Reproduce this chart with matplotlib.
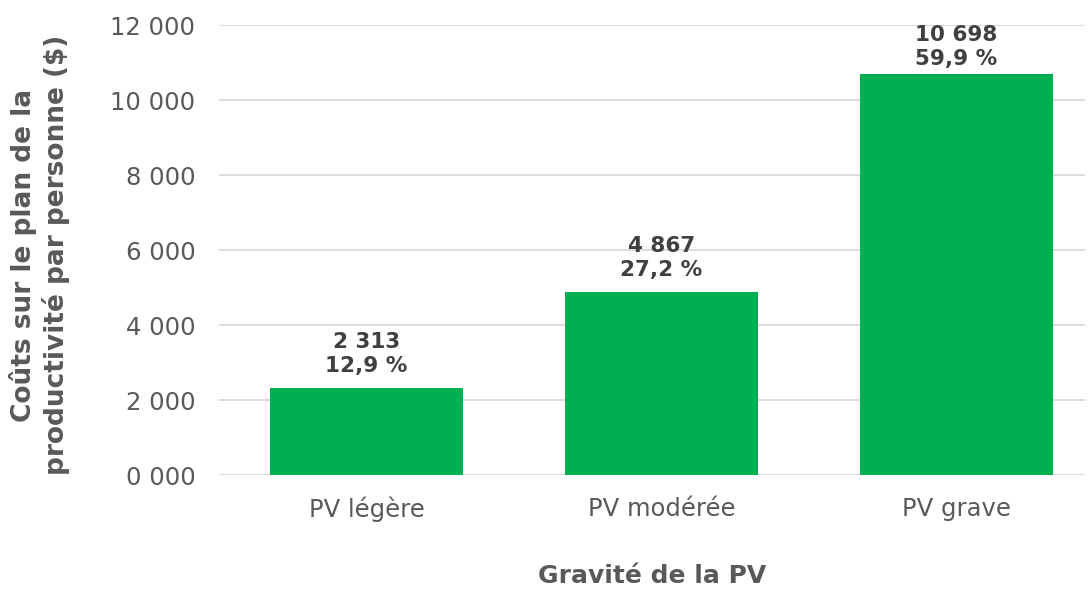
import matplotlib.pyplot as plt
from matplotlib.ticker import FuncFormatter

plt.rcParams['font.family'] = ['DejaVu Sans']

categories = ['PV légère', 'PV modérée', 'PV grave']
costs = [2313, 4867, 10698]
shares = [12.9, 27.2, 59.9]

green = '#00B050'
grey = '#595959'
dark = '#404040'

fig = plt.figure(figsize=(10.91, 5.90), dpi=100)
ax = fig.add_axes([0.2007, 0.1949, 0.7938, 0.7627])

x = range(len(categories))
bars = ax.bar(x, costs, width=0.654, color=green, zorder=3)

labels = []
for b, c, s in zip(bars, costs, shares):
    txt = f"{c:,}".replace(',', ' ') + "\n" + f"{s:.1f}".replace('.', ',') + " %"
    t = ax.annotate(txt, (b.get_x() + b.get_width() / 2, c), xytext=(0, 9),
                    textcoords='offset points', ha='center', va='bottom',
                    fontsize=15.5, fontweight='bold', color=dark, linespacing=1.25)
    labels.append(t)

ax.set_ylim(0, 12000)
ax.set_xlim(-0.5, 2.436)
ax.set_yticks(range(0, 12001, 2000))
ax.yaxis.set_major_formatter(FuncFormatter(lambda v, p: f"{int(v) // 1000} {int(v) % 1000:03d}"))
ax.set_xticks(list(x))
ax.set_xticklabels(categories)

ax.grid(axis='y', color='#D9D9D9', linewidth=1.3, zorder=0)
for sp in ax.spines.values():
    sp.set_visible(False)
ax.tick_params(axis='both', length=0, labelsize=17.5, labelcolor=grey)
ax.tick_params(axis='y', pad=17)
ax.tick_params(axis='x', pad=15.5)

ax.set_ylabel('Coûts sur le plan de la\nproductivité par personne ($)',
              fontsize=19, fontweight='bold', color=grey, labelpad=29, linespacing=1.24)
ax.yaxis.label.set_y(0.489)
ax.set_xlabel('Gravité de la PV', fontsize=18, fontweight='bold', color=grey, labelpad=30)

# keep data labels inside the plot area, like the original chart does
fig.canvas.draw()
ax_top = ax.get_window_extent().y1
for t in labels:
    bb = t.get_window_extent()
    if bb.y1 > ax_top:
        t.set_position((0, 9 - (bb.y1 - ax_top) * 72 / fig.dpi))

fig.savefig('out.png', dpi=100)
